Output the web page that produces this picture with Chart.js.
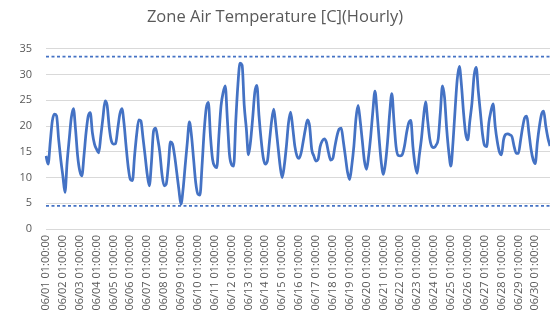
<!DOCTYPE html>
<html>
<head>
<meta charset="utf-8">
<script src="https://cdn.jsdelivr.net/npm/chart.js@4.4.1/dist/chart.umd.min.js"></script>
<style>
  html, body { margin: 0; padding: 0; background: #fff; }
  #wrap { width: 550px; height: 330px; }
</style>
</head>
<body>
<div id="wrap"><canvas id="tempChart" width="550" height="330"></canvas></div>
<script>
// zone-temp.js - hourly zone air temperature, June

const dayLabels = [
    '06/01', '06/02', '06/03', '06/04', '06/05', '06/06', '06/07', '06/08', '06/09', '06/10',
    '06/11', '06/12', '06/13', '06/14', '06/15', '06/16', '06/17', '06/18', '06/19', '06/20',
    '06/21', '06/22', '06/23', '06/24', '06/25', '06/26', '06/27', '06/28', '06/29', '06/30'
];
// readings taken every 3 hours, starting 01:00
const sampleHours = ['01', '04', '07', '10', '13', '16', '19', '22'];

// one row per day, values in deg C
const zoneTemp = [
    14.2, 12.6, 16.8, 21.0, 22.3, 22.0, 17.4, 13.5,
    10.3, 7.1, 12.9, 17.4, 21.6, 23.4, 19.4, 14.2,
    11.3, 10.3, 14.2, 18.7, 21.9, 22.6, 18.7, 16.5,
    15.5, 14.8, 18.1, 21.6, 24.9, 24.0, 19.7, 17.1,
    16.5, 16.6, 19.4, 22.3, 23.4, 20.5, 16.0, 12.0,
    9.6, 9.4, 14.2, 18.4, 21.2, 21.0, 17.7, 14.2,
    10.6, 8.4, 12.9, 19.0, 19.6, 17.5, 14.8, 10.6,
    8.4, 8.7, 12.3, 16.9, 16.5, 14.2, 11.0, 7.7,
    4.8, 7.7, 12.3, 16.8, 20.8, 18.1, 13.5, 9.0,
    6.8, 6.6, 12.3, 19.0, 23.5, 24.6, 18.0, 13.5,
    12.2, 11.9, 18.1, 23.9, 26.5, 27.8, 21.3, 14.5,
    12.5, 12.2, 21.0, 28.0, 32.2, 31.8, 24.0, 19.5,
    14.4, 17.0, 21.5, 26.5, 27.9, 22.0, 17.4, 13.9,
    12.6, 13.2, 17.1, 21.0, 23.3, 20.0, 16.1, 12.3,
    10.0, 12.3, 16.1, 20.6, 22.7, 19.7, 16.1, 14.2,
    13.7, 14.8, 17.1, 19.4, 21.2, 20.0, 15.5, 14.2,
    13.2, 13.5, 16.0, 17.1, 17.5, 16.8, 14.8, 13.4,
    13.7, 16.0, 18.1, 19.4, 19.6, 17.0, 14.0, 11.0,
    9.6, 12.3, 16.1, 21.5, 24.0, 21.0, 17.1, 13.2,
    11.6, 14.2, 18.1, 22.9, 26.8, 22.6, 17.4, 12.9,
    10.6, 12.9, 17.1, 22.6, 26.3, 21.0, 16.0, 14.3,
    14.2, 14.5, 16.1, 18.7, 20.6, 21.1, 16.0, 12.5,
    10.8, 14.2, 17.4, 21.6, 24.7, 21.0, 17.5, 16.0,
    15.8, 16.3, 17.5, 22.6, 27.8, 25.5, 19.5, 15.0,
    12.2, 16.8, 23.2, 29.0, 31.6, 28.0, 22.6, 18.5,
    17.3, 21.0, 24.5, 29.8, 31.4, 26.8, 22.6, 18.4,
    16.2, 16.0, 20.6, 22.9, 24.3, 20.0, 17.0, 15.0,
    14.4, 17.4, 18.4, 18.5, 18.3, 17.9, 16.0, 14.7,
    14.7, 17.1, 19.7, 21.6, 21.9, 18.7, 15.5, 13.5,
    12.7, 16.8, 20.0, 22.3, 22.9, 20.0, 17.7, 16.1
];

// comfort limits shown as dashed lines
const upperLimit = 33.5;
const lowerLimit = 4.5;

const yTicks = { min: 0, max: 35, step: 5 };

const blue = '#4472C4';
const grey = '#595959';

function buildCategories() {
    const cats = [];
    dayLabels.forEach(day => {
        sampleHours.forEach(h => cats.push(`${day} ${h}:00:00`));
    });
    return cats;
}

const categories = buildCategories();

const ctx = document.getElementById('tempChart').getContext('2d');

new Chart(ctx, {
    type: 'line',
    data: {
        labels: categories,
        datasets: [
            {
                label: 'Zone Air Temperature',
                data: zoneTemp,
                borderColor: blue,
                borderWidth: 2.75,
                pointRadius: 0,
                cubicInterpolationMode: 'monotone',
                fill: false
            },
            {
                label: 'Upper limit',
                data: categories.map(() => upperLimit),
                borderColor: blue,
                borderWidth: 1.75,
                borderDash: [3, 2.5],
                pointRadius: 0,
                fill: false
            },
            {
                label: 'Lower limit',
                data: categories.map(() => lowerLimit),
                borderColor: blue,
                borderWidth: 1.75,
                borderDash: [3, 2.5],
                pointRadius: 0,
                fill: false
            }
        ]
    },
    options: {
        responsive: false,
        animation: false,
        layout: { padding: 0 },
        plugins: {
            legend: { display: false },
            tooltip: { enabled: false },
            title: {
                display: true,
                text: 'Zone Air Temperature [C](Hourly)',
                color: grey,
                font: { family: 'Open Sans', size: 16.5, weight: 'normal' },
                padding: { top: 7, bottom: 22 }
            }
        },
        scales: {
            x: {
                grid: { display: false, drawTicks: false },
                border: { display: false },
                ticks: {
                    autoSkip: false,
                    maxRotation: 90,
                    minRotation: 90,
                    padding: 6,
                    color: grey,
                    font: { family: 'Open Sans', size: 11 },
                    callback: (val, i) => (i % sampleHours.length === 0 ? categories[i] : '')
                },
                afterFit: (s) => {
                    s.height = 101;
                    s.paddingLeft = 0;
                    s.paddingRight = 0;
                }
            },
            y: {
                min: yTicks.min,
                max: yTicks.max,
                grid: { color: '#d9d9d9', drawTicks: false },
                border: { display: false },
                ticks: {
                    stepSize: yTicks.step,
                    padding: 14,
                    color: grey,
                    font: { family: 'Open Sans', size: 11 }
                },
                afterFit: (s) => { s.width = 46; }
            }
        }
    }
});
</script>
</body>
</html>
